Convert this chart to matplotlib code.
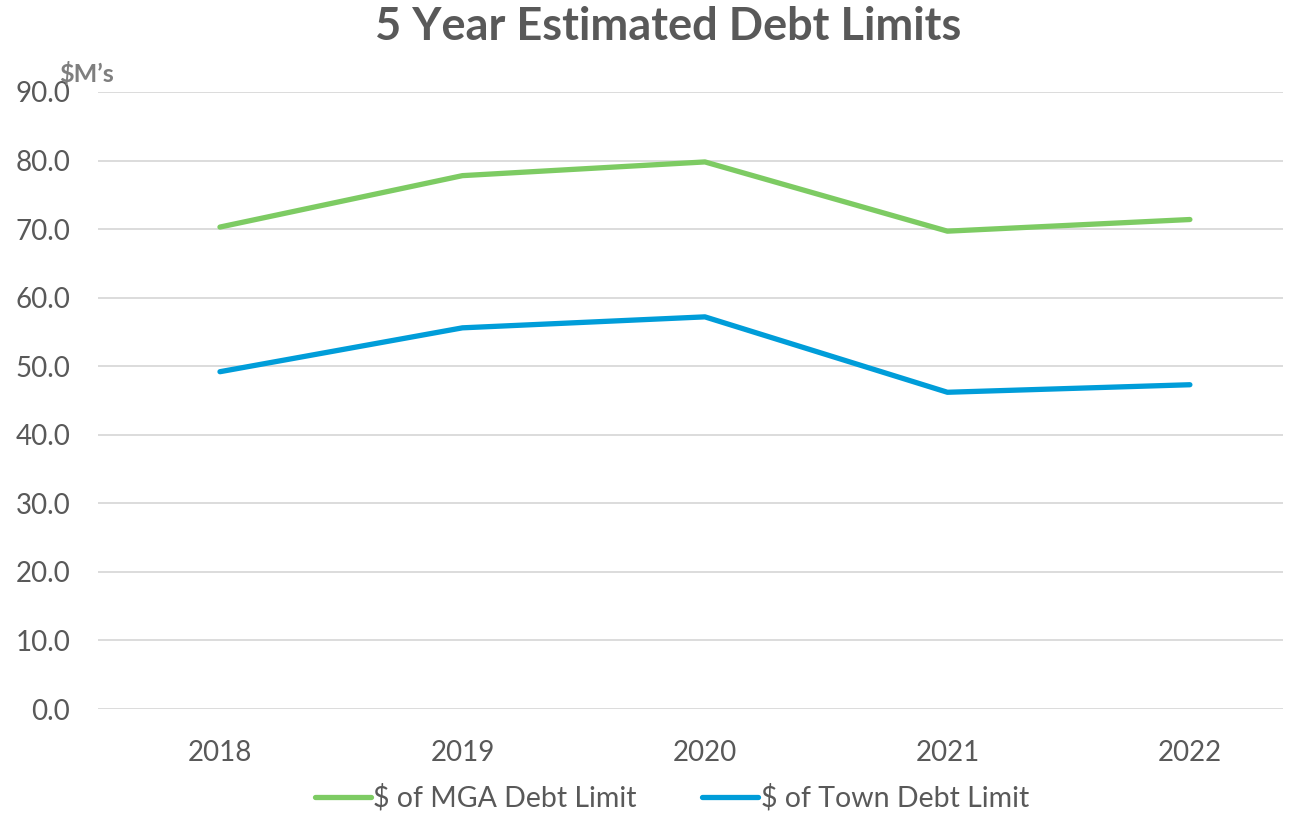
import matplotlib
matplotlib.use("Agg")
import matplotlib.pyplot as plt

years = ["2018", "2019", "2020", "2021", "2022"]
mga_limit = [70.3, 77.8, 79.8, 69.7, 71.4]
town_limit = [49.2, 55.6, 57.2, 46.2, 47.3]
yticks = [0, 10, 20, 30, 40, 50, 60, 70, 80, 90]

plt.rcParams['font.family'] = ['Lato', 'DejaVu Sans']

fig = plt.figure(figsize=(12.97, 8.15), dpi=100)
ax = fig.add_axes([98/1297, 1-709/815, (1283-98)/1297, (709-92)/815])

green = "#7DCB63"
blue = "#009DD9"
x = list(range(len(years)))
ax.plot(x, mga_limit, color=green, lw=3.8, solid_capstyle='round', label="$ of MGA Debt Limit")
ax.plot(x, town_limit, color=blue, lw=3.8, solid_capstyle='round', label="$ of Town Debt Limit")

ax.set_xlim(-0.503, 4.384)
ax.set_ylim(0, 90)
ax.set_yticks(yticks)
ax.set_yticklabels([f"{v:.1f}" for v in yticks])
ax.set_xticks(x)
ax.set_xticklabels(years)
ax.yaxis.grid(True, color="#D9D9D9", lw=1.3)
ax.set_axisbelow(True)
for s in ax.spines.values():
    s.set_visible(False)
ax.tick_params(axis='both', length=0, labelsize=20, labelcolor="#595959")
ax.tick_params(axis='y', pad=20)
ax.tick_params(axis='x', pad=22)

fig.text(668/1297, 1-27/815, "5 Year Estimated Debt Limits", ha='center', va='center',
         fontsize=32.5, fontweight='bold', color="#595959")
fig.text(86/1297, 1-74/815, "$M\u2019s", ha='center', va='center',
         fontsize=18, fontweight='bold', color="#7F7F7F")

leg = fig.legend(loc='center', bbox_to_anchor=(672/1297, 1-798/815), ncol=2, frameon=False,
                 fontsize=20.5, handlelength=1.95, handletextpad=0.1, columnspacing=2.3)
for t in leg.get_texts():
    t.set_color("#595959")

fig.savefig("out.png", dpi=100)
